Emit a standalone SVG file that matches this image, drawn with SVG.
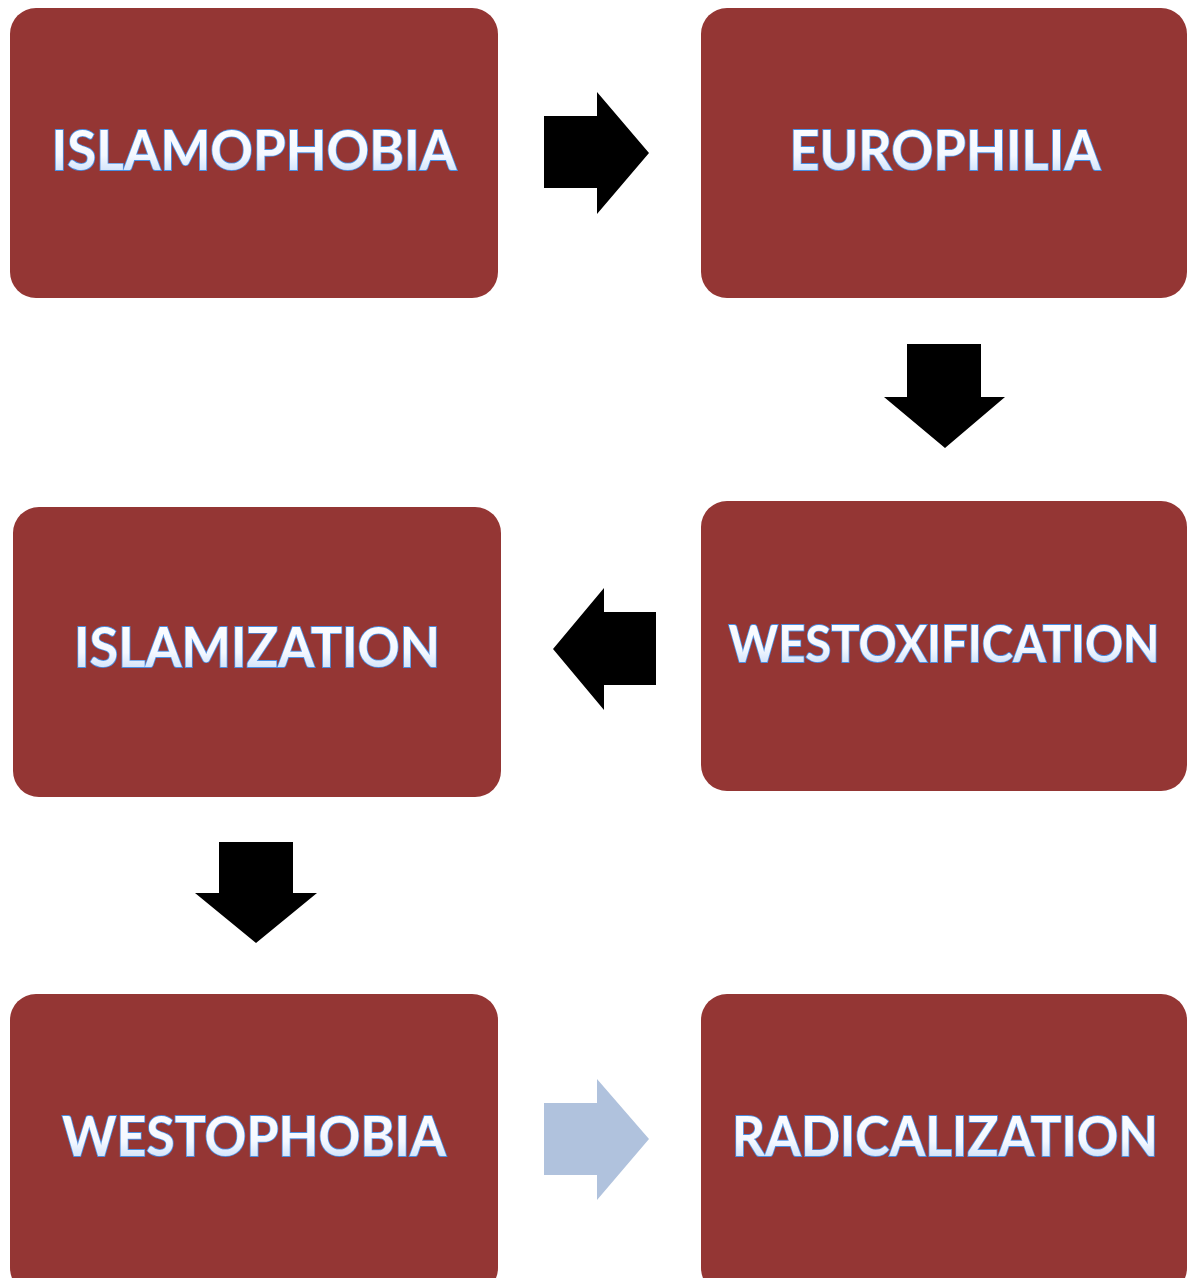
<svg xmlns="http://www.w3.org/2000/svg" width="1188" height="1278" viewBox="0 0 1188 1278">
<defs>
<linearGradient id="tg" x1="0" y1="0" x2="0" y2="1">
<stop offset="0" stop-color="#ffffff"/>
<stop offset="0.6" stop-color="#f4f8ff"/>
<stop offset="1" stop-color="#bcd6f8"/>
</linearGradient>
<style>
.box{fill:#943634;}
.lbl{font-family:Lato,"Open Sans","Liberation Sans",sans-serif;font-weight:bold;font-size:55px;fill:url(#tg);stroke:#4a8fe3;stroke-width:1.8;paint-order:stroke;text-anchor:middle;}
.arr{fill:#000;}
.arr2{fill:#b0c2dd;}
</style>
</defs>
<rect width="1188" height="1278" fill="#ffffff"/>
<g id="n1"><rect class="box" x="10" y="8" width="488" height="290" rx="26"/><text class="lbl" x="254" y="170" textLength="405" lengthAdjust="spacingAndGlyphs">ISLAMOPHOBIA</text></g>
<g id="n2"><rect class="box" x="701" y="8" width="486" height="290" rx="26"/><text class="lbl" x="945" y="170" textLength="311" lengthAdjust="spacingAndGlyphs">EUROPHILIA</text></g>
<g id="n3"><rect class="box" x="13" y="507" width="488" height="290" rx="26"/><text class="lbl" x="257" y="667" textLength="366" lengthAdjust="spacingAndGlyphs">ISLAMIZATION</text></g>
<g id="n4"><rect class="box" x="701" y="501" width="486" height="290" rx="26"/><text class="lbl" x="944" y="662" style="font-size:52px" textLength="431" lengthAdjust="spacingAndGlyphs">WESTOXIFICATION</text></g>
<g id="n5"><rect class="box" x="10" y="994" width="488" height="300" rx="26"/><text class="lbl" x="254" y="1156" textLength="384" lengthAdjust="spacingAndGlyphs">WESTOPHOBIA</text></g>
<g id="n6"><rect class="box" x="701" y="994" width="486" height="300" rx="26"/><text class="lbl" x="945" y="1156" textLength="426" lengthAdjust="spacingAndGlyphs">RADICALIZATION</text></g>
<g id="connectors">
<polygon class="arr" points="544,116 597,116 597,92 649,153 597,214 597,188 544,188"/>
<polygon class="arr" points="907,344 981,344 981,397 1005,397 945,448 884,397 907,397"/>
<polygon class="arr" points="656,612 604,612 604,588 553,649 604,710 604,685 656,685"/>
<polygon class="arr" points="219,842 293,842 293,893 317,893 256,943 195,893 219,893"/>
<polygon class="arr2" points="544,1103 597,1103 597,1079 649,1139 597,1200 597,1175 544,1175"/>
</g>
</svg>
